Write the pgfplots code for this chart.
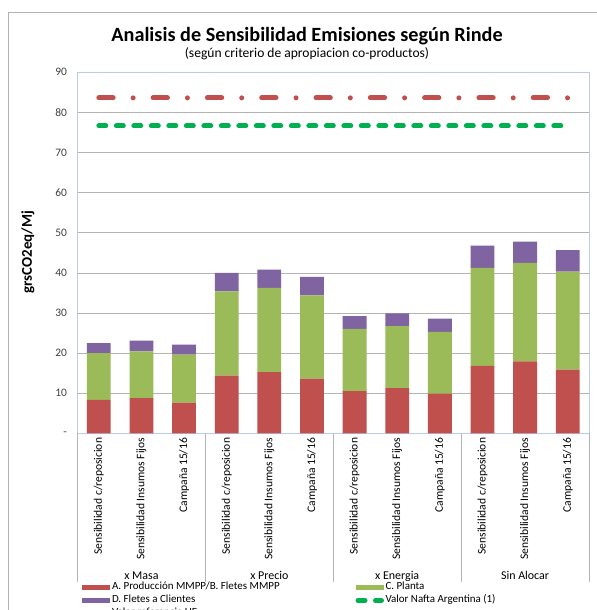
\documentclass[border=0pt]{standalone}
\usepackage{pgfplots}
\pgfplotsset{compat=1.18}
\usepackage{fontspec}
\setmainfont{Carlito}
\definecolor{cred}{HTML}{C0504D}
\definecolor{cgreen}{HTML}{9BBB59}
\definecolor{cpurple}{HTML}{8064A2}
\definecolor{cnafta}{HTML}{00B050}
\definecolor{cbox}{HTML}{B9CDE5}
\definecolor{cgrid}{HTML}{B4B4B4}
\definecolor{ctext}{HTML}{404040}
\begin{document}
\begin{tikzpicture}
\useasboundingbox (0,0) rectangle (597bp,610bp);
\fill[white] (0,0) rectangle (597bp,610bp);
\draw[gray!60, line width=0.8bp] (8bp,-5bp) -- (8bp,598bp) -- (600bp,598bp);
\node[font=\bfseries\fontsize{20.3}{22}\selectfont, anchor=base] at (307bp,568.3bp) {Analisis de Sensibilidad Emisiones según Rinde};
\node[font=\fontsize{13.6}{15}\selectfont, anchor=base] at (307bp,552bp) {(según criterio de apropiacion co-productos)};
\begin{axis}[
  at={(77.5bp,176.7bp)}, anchor=south west,
  scale only axis, width=511.5bp, height=361.1bp,
  xmin=-0.5, xmax=11.5, ymin=0, ymax=90,
  ybar stacked, bar width=0.56,
  ytick={0,10,...,90}, yticklabels={-,10,20,30,40,50,60,70,80,90},
  xtick={0,...,11},
  xticklabels={Sensibilidad c/reposicion, Sensibilidad Insumos Fijos, Campaña 15/16,
               Sensibilidad c/reposicion, Sensibilidad Insumos Fijos, Campaña 15/16,
               Sensibilidad c/reposicion, Sensibilidad Insumos Fijos, Campaña 15/16,
               Sensibilidad c/reposicion, Sensibilidad Insumos Fijos, Campaña 15/16},
  x tick label style={rotate=90, anchor=east, font=\fontsize{11.6}{13}\selectfont, xshift=-1bp},
  y tick label style={font=\fontsize{11.5}{13}\selectfont, text=ctext, xshift=-7bp},
  ymajorgrids, grid style={cgrid, line width=0.6bp},
  major tick length=0pt,
  axis line style={cbox, line width=0.8bp},
  clip=false,
  ylabel={grsCO2eq/Mj},
  every axis y label/.style={at={(axis description cs:-0.0968,0.502)}, rotate=90, anchor=center, font=\bfseries\fontsize{15}{17}\selectfont},
  legend columns=2,
  legend cell align=left,
  legend style={at={(axis description cs:0.0088,-0.409)}, anchor=north west, draw=none, fill=none,
    inner sep=0pt, outer sep=0pt, row sep=0pt,
    nodes={inner xsep=1.5bp, inner ysep=1.5bp, text height=7.5bp, text depth=2.5bp, font=\fontsize{11}{12}\selectfont}},
]
\addplot[fill=cred, draw=none, legend image code/.code={\fill[cred] (0bp,-2.5bp) rectangle (28bp,2.5bp);}]
 coordinates {(0,8.3) (1,8.75) (2,7.67) (3,14.4) (4,15.25) (5,13.6) (6,10.5) (7,11.25) (8,9.9) (9,16.8) (10,17.9) (11,15.9)};
\addlegendentry{\makebox[242bp][l]{A. Producción MMPP/B. Fletes MMPP}}
\addplot[fill=cgreen, draw=none, legend image code/.code={\fill[cgreen] (0bp,-2.5bp) rectangle (28bp,2.5bp);}]
 coordinates {(0,11.7) (1,11.65) (2,11.93) (3,21.0) (4,21.0) (5,20.8) (6,15.5) (7,15.45) (8,15.35) (9,24.45) (10,24.6) (11,24.4)};
\addlegendentry{C. Planta}
\addplot[fill=cpurple, draw=none, legend image code/.code={\fill[cpurple] (0bp,-2.5bp) rectangle (28bp,2.5bp);}]
 coordinates {(0,2.5) (1,2.7) (2,2.5) (3,4.6) (4,4.55) (5,4.6) (6,3.2) (7,3.2) (8,3.35) (9,5.55) (10,5.25) (11,5.35)};
\addlegendentry{\makebox[242bp][l]{D. Fletes a Clientes}}
\addlegendimage{legend image code/.code={\draw[cnafta, line width=5bp, line cap=round, dash pattern=on 7bp off 10.5bp] (2.5bp,0bp) -- (26bp,0bp);}}
\addlegendentry{Valor Nafta Argentina (1)}
\addlegendimage{legend image code/.code={\draw[cred, line width=5bp, line cap=round, dash pattern=on 8bp off 12bp on 0bp off 20bp] (2.5bp,0bp) -- (26bp,0bp);}}
\addlegendentry{Valor referencia UE}
\draw[cgrid, line width=0.8bp] (axis cs:-0.5,0) -- ++(0pt,-148.7bp);
\draw[cgrid, line width=0.8bp] (axis cs:2.5,0) -- ++(0pt,-148.7bp);
\draw[cgrid, line width=0.8bp] (axis cs:5.5,0) -- ++(0pt,-148.7bp);
\draw[cgrid, line width=0.8bp] (axis cs:8.5,0) -- ++(0pt,-148.7bp);
\draw[cgrid, line width=0.8bp] (axis cs:11.5,0) -- ++(0pt,-148.7bp);
\node[font=\fontsize{12}{14}\selectfont, anchor=base] at (axis cs:1,0) [yshift=-146bp] {x Masa};
\node[font=\fontsize{12}{14}\selectfont, anchor=base] at (axis cs:4,0) [yshift=-146bp] {x Precio};
\node[font=\fontsize{12}{14}\selectfont, anchor=base] at (axis cs:7,0) [yshift=-146bp] {x Energia};
\node[font=\fontsize{12}{14}\selectfont, anchor=base] at (axis cs:10,0) [yshift=-146bp] {Sin Alocar};
\end{axis}
\begin{axis}[
  at={(77.5bp,176.7bp)}, anchor=south west,
  scale only axis, width=511.5bp, height=361.1bp,
  xmin=-0.5, xmax=11.5, ymin=0, ymax=90,
  hide axis, clip=false,
]
\addplot[cred, line width=5bp, line cap=round, dash pattern=on 14.3bp off 20bp on 0bp off 20bp] coordinates {(0,83.6) (11,83.6)};
\addplot[cnafta, line width=5bp, line cap=round, dash pattern=on 7bp off 10.5bp] coordinates {(0,76.6) (11,76.6)};
\end{axis}
\end{tikzpicture}
\end{document}
